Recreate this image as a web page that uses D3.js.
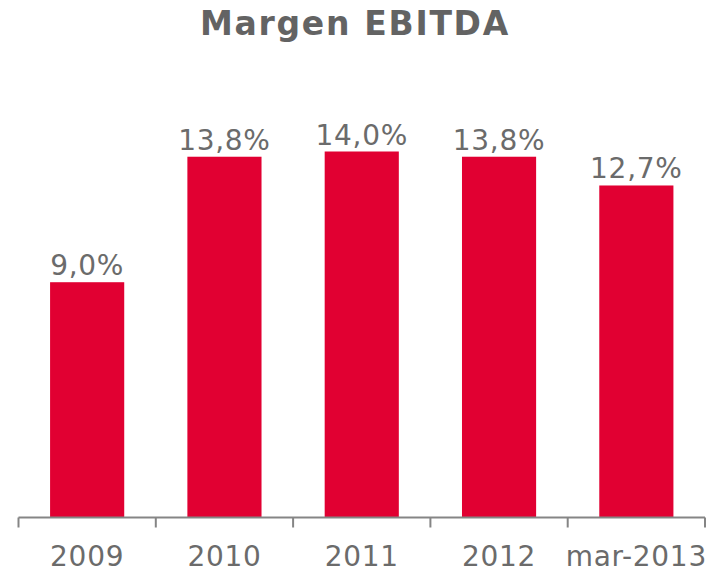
<!DOCTYPE html>
<html>
<head>
<meta charset="utf-8">
<script src="https://cdn.jsdelivr.net/npm/d3@7"></script>
<style>
  body { margin: 0; background: #fff; }
  text { font-family: "DejaVu Sans", Verdana, sans-serif; }
</style>
</head>
<body>
<div id="chart"></div>
<script>
// data
const categories = ['2009', '2010', '2011', '2012', 'mar-2013'];
const margins = [9.0, 13.8, 14.0, 13.8, 12.7];
const valueLabels = ['9,0%', '13,8%', '14,0%', '13,8%', '12,7%'];

const svgWidth = 714;
const svgHeight = 572;
const plot = { left: 18.5, right: 705, top: 151.5, bottom: 517.5 };

const svg = d3.select('#chart').append('svg')
    .attr('width', svgWidth)
    .attr('height', svgHeight);

const xBand = d3.scaleBand()
    .domain(categories)
    .range([plot.left, plot.right])
    .paddingInner(0.46)
    .paddingOuter(0.23);

const yLinear = d3.scaleLinear()
    .domain([0, 14])
    .range([plot.bottom, plot.top]);

// title
svg.append('text')
    .attr('x', 355)
    .attr('y', 35)
    .attr('text-anchor', 'middle')
    .attr('font-size', 33)
    .attr('font-weight', 'bold')
    .attr('letter-spacing', 1.7)
    .attr('fill', '#636363')
    .text('Margen EBITDA');

// bars
svg.selectAll('rect.bar').data(margins)
    .enter()
    .append('rect')
    .attr('class', 'bar')
    .attr('x', (d, i) => xBand(categories[i]))
    .attr('y', d => yLinear(d))
    .attr('width', xBand.bandwidth())
    .attr('height', d => plot.bottom - yLinear(d))
    .attr('fill', '#e10032');

// value labels
svg.selectAll('text.val').data(margins)
    .enter()
    .append('text')
    .attr('class', 'val')
    .attr('x', (d, i) => xBand(categories[i]) + xBand.bandwidth() / 2)
    .attr('y', d => yLinear(d) - 7)
    .attr('text-anchor', 'middle')
    .attr('font-size', 28)
    .attr('letter-spacing', 0.7)
    .attr('fill', '#6b6b6b')
    .text((d, i) => valueLabels[i]);

// x axis: baseline with ticks on category boundaries
const axisG = svg.append('g');
axisG.append('line')
    .attr('x1', plot.left).attr('x2', plot.right)
    .attr('y1', plot.bottom).attr('y2', plot.bottom)
    .attr('stroke', '#858585')
    .attr('stroke-width', 2);

const bounds = d3.range(categories.length + 1).map(i => plot.left + i * (plot.right - plot.left) / categories.length);
axisG.selectAll('line.tick').data(bounds)
    .enter()
    .append('line')
    .attr('class', 'tick')
    .attr('x1', d => d).attr('x2', d => d)
    .attr('y1', plot.bottom).attr('y2', plot.bottom + 10)
    .attr('stroke', '#858585')
    .attr('stroke-width', 2);

axisG.selectAll('text.cat').data(categories)
    .enter()
    .append('text')
    .attr('class', 'cat')
    .attr('x', d => xBand(d) + xBand.bandwidth() / 2)
    .attr('y', 566)
    .attr('text-anchor', 'middle')
    .attr('font-size', 28)
    .attr('letter-spacing', 0.7)
    .attr('fill', '#6b6b6b')
    .text(d => d);
</script>
</body>
</html>
